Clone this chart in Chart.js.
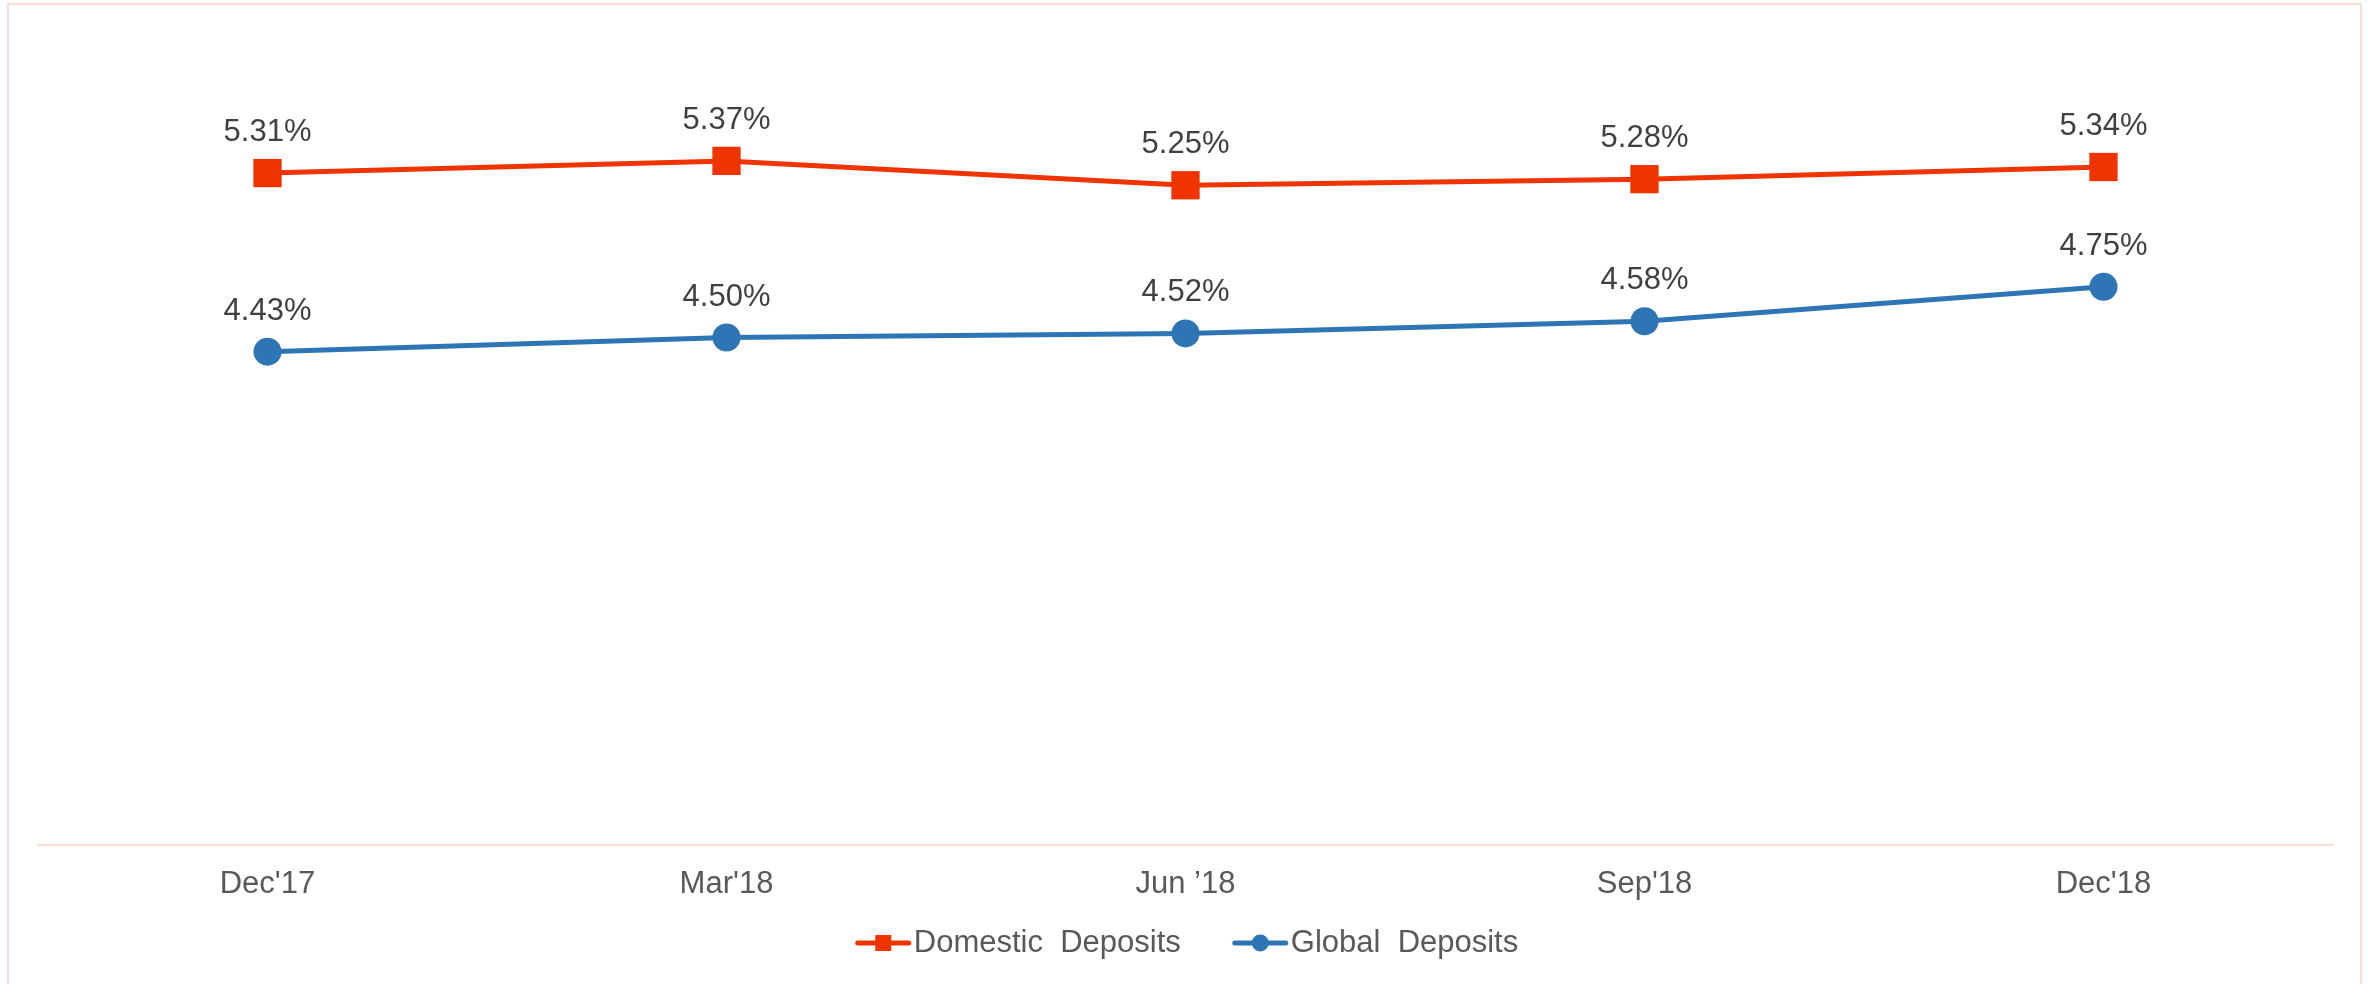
<!DOCTYPE html>
<html>
<head>
<meta charset="utf-8">
<script src="https://cdn.jsdelivr.net/npm/chart.js@4"></script>
<style>
  html, body { margin: 0; padding: 0; background: #fff; }
  #wrap { position: relative; width: 2374px; height: 984px; overflow: hidden; }
  #frame { position: absolute; left: 7px; top: 3px; width: 2355px; height: 1000px; border: 2px solid #fddcd2; box-sizing: border-box; }
  canvas { position: absolute; left: 0; top: 0; }
</style>
</head>
<body>
<div id="wrap">
  <div id="frame"></div>
  <canvas id="rateChart" width="2374" height="984"></canvas>
</div>
<script>
/* ---- chart data ---- */
const quarters = ["Dec'17", "Mar'18", "Jun \u201918", "Sep'18", "Dec'18"];
const domesticDeposits = [5.31, 5.37, 5.25, 5.28, 5.34];
const globalDeposits = [4.43, 4.50, 4.52, 4.58, 4.75];
const seriesNames = ["Domestic  Deposits", "Global  Deposits"];

const RED = "#f03400";
const BLUE = "#2e75b6";
const FONT = "'Liberation Sans', Arial, sans-serif";

// value labels above every point
const pointLabels = {
  id: "pointLabels",
  afterDatasetsDraw(chart) {
    const ctx = chart.ctx;
    ctx.save();
    ctx.font = "31px " + FONT;
    ctx.fillStyle = "#404040";
    ctx.textAlign = "center";
    ctx.textBaseline = "alphabetic";
    chart.data.datasets.forEach((ds, i) => {
      const meta = chart.getDatasetMeta(i);
      meta.data.forEach((pt, j) => {
        ctx.fillText(ds.data[j].toFixed(2) + "%", pt.x, pt.y - 32);
      });
    });
    ctx.restore();
  }
};

// legend like the office one: line with the marker, then the name
const lineLegend = {
  id: "lineLegend",
  afterDraw(chart) {
    const ctx = chart.ctx;
    const y = 943;
    const swatchW = 55, textGap = 3, itemGap = 52;
    ctx.save();
    ctx.font = "31px " + FONT;
    const widths = chart.data.datasets.map(ds => ctx.measureText(ds.label).width);
    let total = 0;
    widths.forEach((w, i) => { total += swatchW + textGap + w + (i ? itemGap : 0); });
    let x = chart.width / 2 - total / 2;
    chart.data.datasets.forEach((ds, i) => {
      ctx.strokeStyle = ds.borderColor;
      ctx.fillStyle = ds.borderColor;
      ctx.lineWidth = 5;
      ctx.lineCap = "round";
      ctx.beginPath();
      ctx.moveTo(x + 2, y);
      ctx.lineTo(x + swatchW - 2, y);
      ctx.stroke();
      const mx = x + swatchW / 2;
      if (ds.pointStyle === "rect") {
        ctx.fillRect(mx - 8, y - 8, 16, 16);
      } else {
        ctx.beginPath();
        ctx.arc(mx, y, 8.5, 0, Math.PI * 2);
        ctx.fill();
      }
      ctx.fillStyle = "#595959";
      ctx.textAlign = "left";
      ctx.textBaseline = "middle";
      ctx.fillText(ds.label, x + swatchW + textGap, y);
      x += swatchW + textGap + widths[i] + itemGap;
    });
    ctx.restore();
  }
};

new Chart(document.getElementById("rateChart"), {
  type: "line",
  data: {
    labels: quarters,
    datasets: [
      {
        label: seriesNames[0],
        data: domesticDeposits,
        borderColor: RED,
        backgroundColor: RED,
        borderWidth: 5,
        pointStyle: "rect",
        pointRadius: 20,
        pointHoverRadius: 20,
        pointBorderWidth: 0,
        tension: 0
      },
      {
        label: seriesNames[1],
        data: globalDeposits,
        borderColor: BLUE,
        backgroundColor: BLUE,
        borderWidth: 5,
        pointStyle: "circle",
        pointRadius: 14,
        pointHoverRadius: 14,
        pointBorderWidth: 0,
        tension: 0
      }
    ]
  },
  options: {
    responsive: false,
    animation: false,
    layout: { padding: { left: 38, right: 41, top: 33, bottom: 79 } },
    plugins: {
      tooltip: { enabled: false },
      legend: { display: false }
    },
    scales: {
      x: {
        offset: true,
        grid: { display: false, drawTicks: false },
        border: { display: true, color: "#fddcd2", width: 2 },
        ticks: {
          color: "#595959",
          font: { family: FONT, size: 31 },
          padding: 21,
          maxRotation: 0
        },
        afterFit(scale) { scale.height = 60; }
      },
      y: {
        display: false,
        min: 2,
        max: 6
      }
    }
  },
  plugins: [pointLabels, lineLegend]
});
</script>
</body>
</html>
